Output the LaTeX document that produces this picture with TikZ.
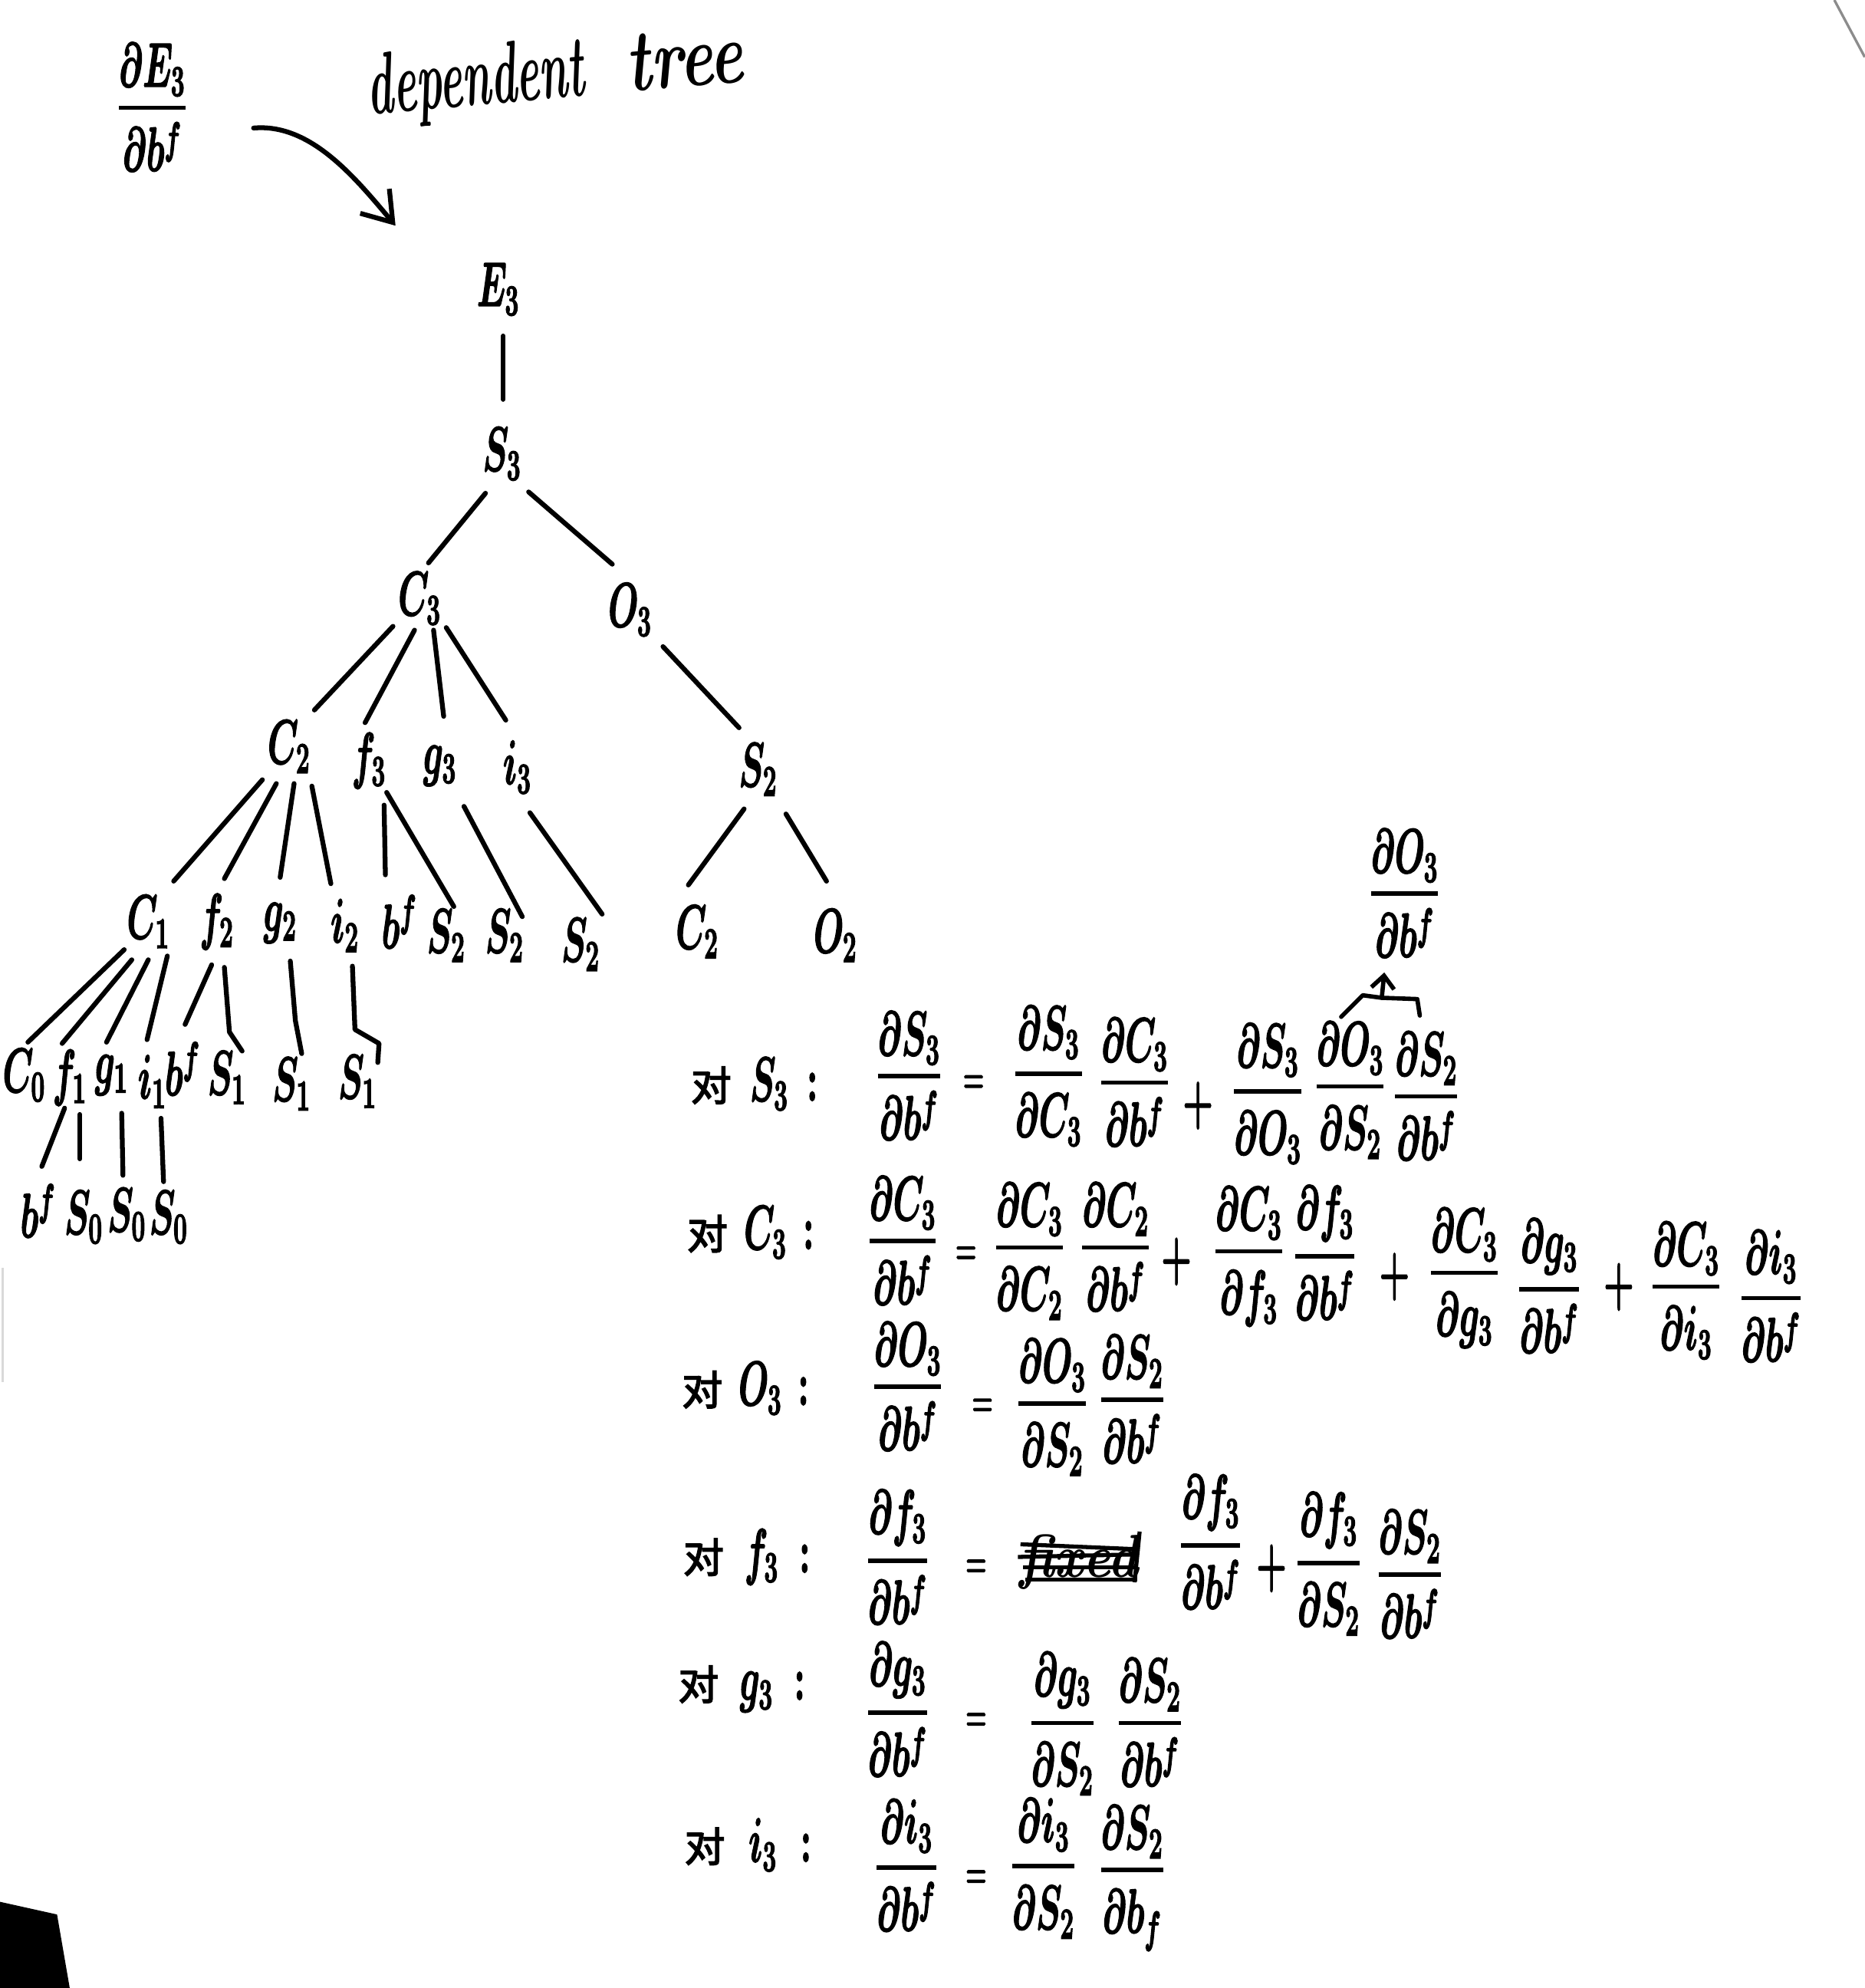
\RequirePackage{fix-cm}
\documentclass[tikz,border=0pt]{standalone}
\usepackage[no-math]{fontspec}
\usepackage{amsmath}
\newfontfamily\cjkhw{Noto Sans CJK SC}
\usetikzlibrary{arrows.meta}
\newcommand{\inkon}{\special{pdf:code q 2 Tr 0.5 w}}
\newcommand{\inkoff}{\special{pdf:code Q}}
\newcommand{\hw}[1]{\scalebox{0.62}[1.12]{\fontsize{22}{26}\selectfont\boldmath\inkon$#1$\inkoff}}
\newcommand{\pf}[2]{\hw{\genfrac{}{}{1.5pt}{0}{\raisebox{-3.5pt}[\height][0pt]{$\displaystyle\partial #1$}}{\partial #2}}}
\newcommand{\heq}{\scalebox{0.7}{\hw{=}}}
\newcommand{\rowlab}[1]{\makebox[50pt]{{\cjkhw\fontsize{16}{18}\selectfont\inkon 对\inkoff}\hfill\hw{#1}\hfill\hw{:}}}
\newcommand{\conn}[4]{\draw[wire] ([shift={(#3)}]#1.center) -- ([shift={(#4)}]#2.center);}
\tikzset{
  lab/.style={inner sep=0pt,outer sep=0pt},
  fr/.style={lab,anchor=base,yshift=-5.6pt},
  wire/.style={line width=1.9pt,line cap=round,line join=round,black}
}
\begin{document}
\begin{tikzpicture}[x=0.5pt,y=-0.5pt]
\useasboundingbox (0,0) rectangle (1471.2,1568);
% photo edges
\fill[black] (0,1500) -- (45,1510) -- (55,1568) -- (0,1568) -- cycle;
\draw[line width=1pt,black!45] (1447,0) -- (1471,45);
\draw[line width=0.8pt,black!15] (2,1000) -- (2,1090);
% heading
\node[fr] (topf) at (120,86) {\pf{E_3}{b^f}};
\node[lab,rotate=5] (title) at (438,60) {\fontsize{33}{36}\selectfont\bfseries\itshape\scalebox{0.52}[1.05]{dependent}\hspace{17pt}\scalebox{0.76}[1.05]{tree}};
% tree
\node[lab] (E3) at (393,228) {\hw{E_3}};
\node[lab] (S3) at (396,358) {\hw{S_3}};
\node[lab] (C3) at (331,472) {\hw{C_3}};
\node[lab] (O3) at (497,481) {\hw{O_3}};
\node[lab] (C2) at (228,589) {\hw{C_2}};
\node[lab] (f3) at (291,600) {\hw{f_3}};
\node[lab] (g3) at (347,604) {\hw{g_3}};
\node[lab] (i3) at (408,605) {\hw{i_3}};
\node[lab] (S2r) at (598,607) {\hw{S_2}};
\node[lab] (C1) at (117,727) {\hw{C_1}};
\node[lab] (f2) at (171,727) {\hw{f_2}};
\node[lab] (g2) at (221,728) {\hw{g_2}};
\node[lab] (i2) at (272,730) {\hw{i_2}};
\node[lab] (bfa) at (315,727) {\hw{b^f}};
\node[lab] (S2a) at (352,738) {\hw{S_2}};
\node[lab] (S2b) at (398,738) {\hw{S_2}};
\node[lab] (S2c) at (458,745) {\hw{S_2}};
\node[lab] (c2) at (550,735) {\hw{C_2}};
\node[lab] (O2) at (659,738) {\hw{O_2}};
\node[lab] (c0) at (19,848) {\hw{C_0}};
\node[lab] (f1) at (55,850) {\hw{f_1}};
\node[lab] (g1) at (88,848) {\hw{g_1}};
\node[lab] (i1) at (120,853) {\hw{i_1}};
\node[lab] (bfb) at (144,843) {\hw{b^f}};
\node[lab] (S1a) at (179,850) {\hw{S_1}};
\node[lab] (S1b) at (230,855) {\hw{S_1}};
\node[lab] (S1c) at (282,853) {\hw{S_1}};
\node[lab] (bfc) at (30,955) {\hw{b^f}};
\node[lab] (S0a) at (66,960) {\hw{S_0}};
\node[lab] (S0b) at (100,958) {\hw{S_0}};
\node[lab] (S0c) at (133,960) {\hw{S_0}};
% tree connectors
\conn{E3}{S3}{4,37}{1,-43}
\conn{S3}{C3}{-13,31}{7,-28}
\conn{S3}{O3}{21,30}{-14,-36}
\conn{C3}{C2}{-21,22}{20,-29}
\conn{C3}{f3}{-4,25}{-3,-30}
\conn{C3}{g3}{11,25}{3,-39}
\conn{C3}{i3}{21,23}{-9,-37}
\conn{O3}{S2r}{26,29}{-15,-33}
\conn{C2}{C1}{-21,26}{20,-32}
\conn{C2}{f2}{-10,29}{6,-34}
\conn{C2}{g2}{4,29}{0,-36}
\conn{C2}{i2}{18,31}{-11,-33}
\conn{f3}{bfa}{12,35}{-11,-37}
\conn{f3}{S2a}{14,25}{6,-23}
\conn{g3}{S2b}{19,32}{14,-15}
\conn{i3}{S2c}{10,36}{17,-24}
\conn{S2r}{c2}{-11,31}{-7,-37}
\conn{S2r}{O2}{22,35}{-7,-43}
\conn{C1}{c0}{-19,22}{3,-26}
\conn{C1}{f1}{-13,30}{-6,-27}
\conn{C1}{g1}{0,30}{-4,-26}
\conn{C1}{i1}{15,27}{-4,-33}
\conn{f2}{bfb}{-4,34}{2,-35}
\draw[wire] ([shift={(6,36)}]f2.center) -- ([shift={(2,-36)}]S1a.center) -- ([shift={(12,-21)}]S1a.center);
\draw[wire] ([shift={(8,30)}]g2.center) -- ([shift={(3,-50)}]S1b.center) -- ([shift={(8,-24)}]S1b.center);
\draw[wire] ([shift={(6,32)}]i2.center) -- ([shift={(-2,-41)}]S1c.center) -- ([shift={(17,-30)}]S1c.center) -- ([shift={(16,-15)}]S1c.center);
\conn{f1}{bfc}{-4,24}{3,-35}
\conn{f1}{S0a}{8,29}{-3,-46}
\conn{g1}{S0b}{8,30}{-3,-31}
\conn{i1}{S0c}{7,29}{-4,-28}
% arrow to the tree
\coordinate (arrS) at (200,101);
\draw[wire,-{Straight Barb[length=11pt,width=15pt]}] (arrS) .. controls (245,97) and (280,140) .. ([shift={(-81,-50)}]E3.center);
% row S3
\node[lab] (lS3) at (595,855) {\rowlab{S_3}};
\node[fr] (a1) at (717,850) {\pf{S_3}{b^f}};
\node[lab] (a2) at (768,855) {\heq};
\node[fr] (a3) at (827,848) {\pf{S_3}{C_3}};
\node[fr] (a4) at (895,855) {\pf{C_3}{b^f}};
\node[lab] (a5) at (945,872) {\hw{+}};
\node[fr] (a6) at (1000,862) {\pf{S_3}{O_3}};
\node[fr] (a7) at (1065,858) {\pf{O_3}{S_2}};
\node[fr] (a8) at (1125,866) {\pf{S_2}{b^f}};
\node[fr] (a9) at (1108,706) {\pf{O_3}{b^f}};
\coordinate (brL) at (1058,802);
\coordinate (brM) at (1090,787);
\coordinate (brR) at (1120,801);
\coordinate (brT) at (1092,767);
\draw[line width=1.7pt,line cap=round,line join=round] (brL) -- (1075,785) -- (brM) -- (1118,788) -- (brR);
\draw[line width=1.7pt,line cap=round,-{Straight Barb[length=5pt,width=9pt]}] (brM) -- (brT);
% row C3
\node[lab] (lC3) at (592,972) {\rowlab{C_3}};
\node[fr] (b1) at (712,980) {\pf{C_3}{b^f}};
\node[lab] (b2) at (762,990) {\heq};
\node[fr] (b3) at (812,985) {\pf{C_3}{C_2}};
\node[fr] (b4) at (880,985) {\pf{C_2}{b^f}};
\node[lab] (b5) at (928,995) {\hw{+}};
\node[fr] (b6) at (985,988) {\pf{C_3}{f_3}};
\node[fr] (b7) at (1045,992) {\pf{f_3}{b^f}};
\node[lab] (b8) at (1100,1007) {\hw{+}};
\node[fr] (b9) at (1155,1005) {\pf{C_3}{g_3}};
\node[fr] (b10) at (1222,1018) {\pf{g_3}{b^f}};
\node[lab] (b11) at (1277,1015) {\hw{+}};
\node[fr] (b12) at (1330,1016) {\pf{C_3}{i_3}};
\node[fr] (b13) at (1397,1025) {\pf{i_3}{b^f}};
% row O3
\node[lab] (lO3) at (588,1095) {\rowlab{O_3}};
\node[fr] (c1) at (716,1095) {\pf{O_3}{b^f}};
\node[lab] (c2a) at (775,1110) {\heq};
\node[fr] (c3) at (830,1108) {\pf{O_3}{S_2}};
\node[fr] (c4) at (893,1105) {\pf{S_2}{b^f}};
% row f3
\node[lab] (lf3) at (589,1228) {\rowlab{f_3}};
\node[fr] (d1) at (708,1232) {\pf{f_3}{b^f}};
\node[lab] (d2) at (770,1237) {\heq};
\node[lab] (fixed) at (851,1232) {\scalebox{0.85}[1]{\fontsize{24}{26}\selectfont\bfseries\itshape fixed}};
\draw[line width=1.6pt] ([shift={(-46,-14)}]fixed.center) -- ([shift={(48,-10)}]fixed.center);
\draw[line width=1.6pt] ([shift={(-48,-4)}]fixed.center) -- ([shift={(46,-6)}]fixed.center);
\draw[line width=1.6pt] ([shift={(-44,4)}]fixed.center) -- ([shift={(46,4)}]fixed.center);
\draw[line width=1.6pt] ([shift={(-42,14)}]fixed.center) -- ([shift={(46,14)}]fixed.center);
\draw[line width=1.6pt] ([shift={(48,-24)}]fixed.center) -- ([shift={(44,16)}]fixed.center);
\node[fr] (d3) at (955,1220) {\pf{f_3}{b^f}};
\node[lab] (d4) at (1003,1237) {\hw{+}};
\node[fr] (d5) at (1048,1234) {\pf{f_3}{S_2}};
\node[fr] (d6) at (1112,1243) {\pf{S_2}{b^f}};
% row g3
\node[lab] (lg3) at (585,1332) {\rowlab{g_3}};
\node[fr] (e1) at (708,1352) {\pf{g_3}{b^f}};
\node[lab] (e2) at (770,1358) {\heq};
\node[fr] (e3) at (838,1360) {\pf{g_3}{S_2}};
\node[fr] (e4) at (907,1360) {\pf{S_2}{b^f}};
% row i3
\node[lab] (li3) at (590,1455) {\rowlab{i_3}};
\node[fr] (h1) at (715,1474) {\pf{i_3}{b^f}};
\node[lab] (h2) at (770,1482) {\heq};
\node[fr] (h3) at (823,1473) {\pf{i_3}{S_2}};
\node[fr] (h4) at (893,1476) {\pf{S_2}{b_f}};
\end{tikzpicture}
\end{document}
